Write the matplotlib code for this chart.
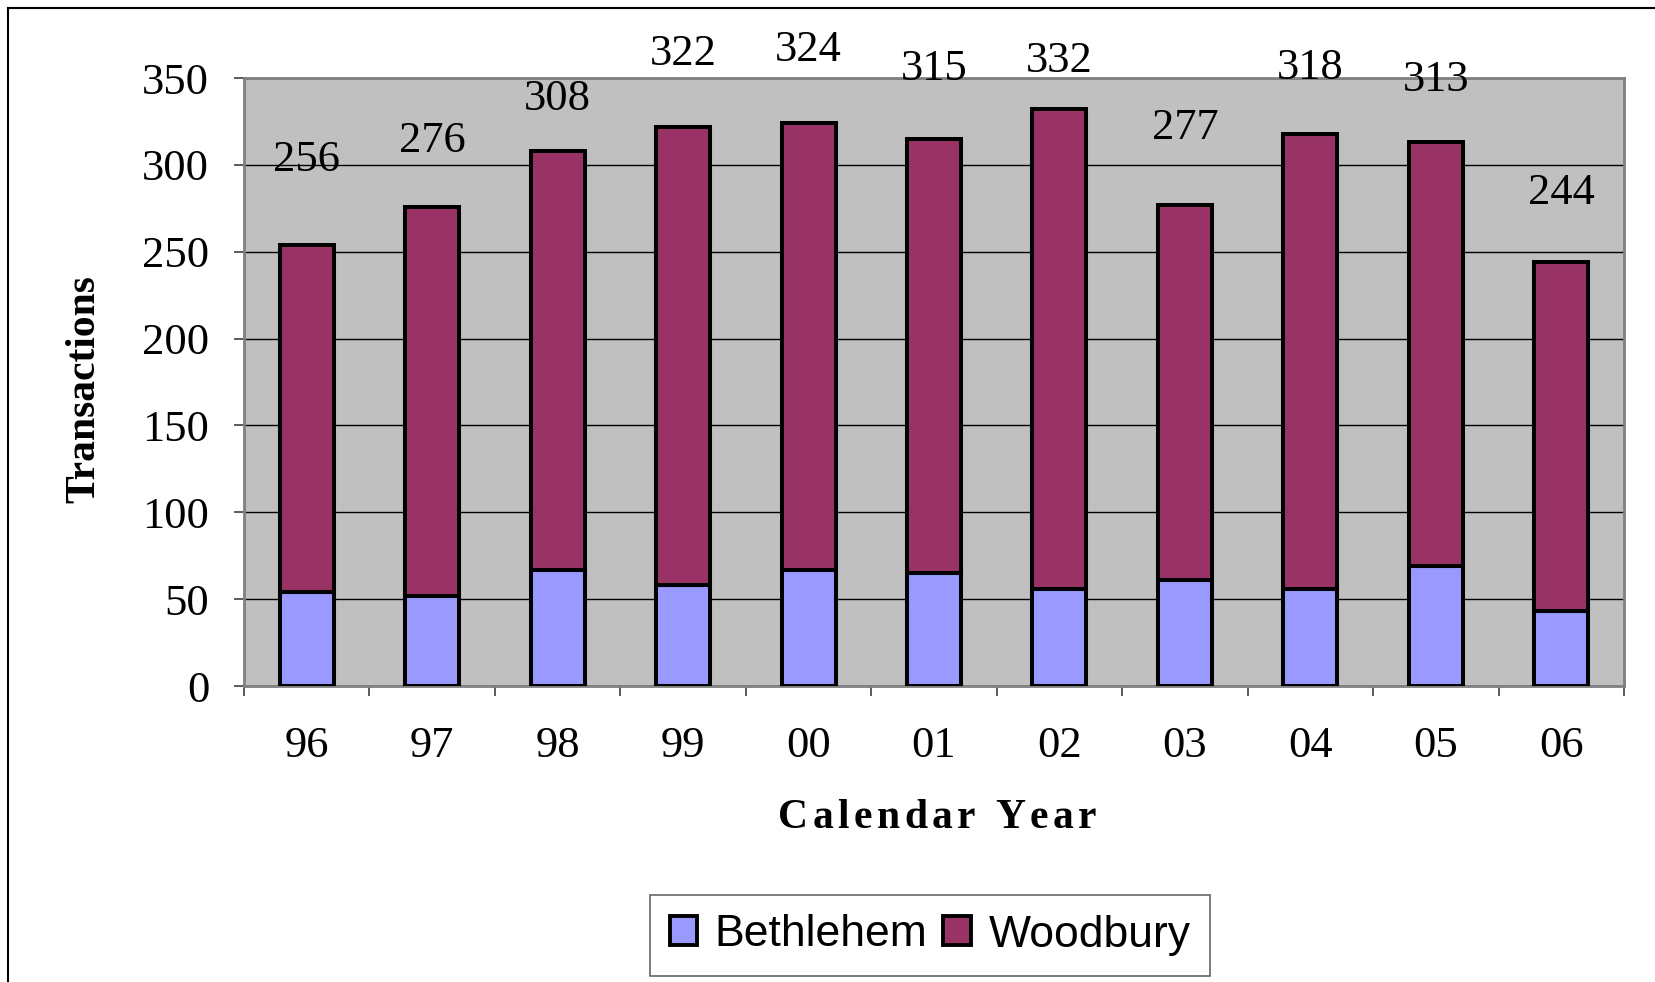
import matplotlib
matplotlib.use("Agg")
import matplotlib.pyplot as plt
import numpy as np
from matplotlib import font_manager
from matplotlib.ft2font import FT2Font
from matplotlib.patches import Patch
from matplotlib.lines import Line2D

# ---- data ----
years = ["96", "97", "98", "99", "00", "01", "02", "03", "04", "05", "06"]
bethlehem = [54, 52, 67, 58, 67, 65, 56, 61, 56, 69, 43]
woodbury = [200, 224, 241, 264, 257, 250, 276, 216, 262, 244, 201]
total_labels = ["256", "276", "308", "322", "324", "315", "332", "277", "318", "313", "244"]
# label centre heights (data units), as placed in the original
label_y = [303, 314, 338, 364, 366, 355, 360, 321, 356, 349, 284]
yticks = [0, 50, 100, 150, 200, 250, 300, 350]

W, H, DPI = 1656, 982, 100
fig = plt.figure(figsize=(W / DPI, H / DPI), dpi=DPI)
fig.patch.set_facecolor("white")

ax_l, ax_r, ax_t, ax_b = 244, 1624, 78, 686
ax = fig.add_axes([ax_l / W, 1 - ax_b / H, (ax_r - ax_l) / W, (ax_b - ax_t) / H])
ax.set_facecolor("#C0C0C0")

x = np.arange(len(years))
bw = 0.43
ax.bar(x, bethlehem, bw, color="#9999FF", edgecolor="black", linewidth=2.9, zorder=3, label="Bethlehem")
ax.bar(x, woodbury, bw, bottom=bethlehem, color="#993366", edgecolor="black", linewidth=2.9, zorder=3, label="Woodbury")

serif = "Liberation Serif"
for xi, lab, ly in zip(x, total_labels, label_y):
    ax.text(xi, ly, lab, ha="center", va="center", fontsize=32, family=serif, zorder=5, clip_on=False)

ax.set_xlim(-0.5, len(years) - 0.5)
ax.set_ylim(0, 350)
ax.set_yticks(yticks)
ax.set_yticklabels([str(v) for v in yticks], fontsize=32, family=serif)
ax.set_xticks(x)
ax.set_xticklabels(years, fontsize=32, family=serif)
ax.set_xticks(np.arange(-0.5, len(years)), minor=True)
ax.tick_params(axis="x", which="major", length=0, pad=29)
ax.tick_params(axis="x", which="minor", length=7, width=1.2, color="#404040", direction="out")
ax.tick_params(axis="y", which="major", length=7, width=1.2, color="#404040", direction="out", pad=18)

ax.yaxis.grid(True, color="black", linewidth=1.0, zorder=1)
ax.set_axisbelow(True)
for s in ax.spines.values():
    s.set_color("#808080")
    s.set_linewidth(2)

# y axis title
fig.text(84 / W, 1 - 389 / H, "Transactions", rotation=90, ha="center", va="center",
         fontsize=30, family=serif, fontweight="bold")

# letter-spaced x axis title
def spaced_text(s, cx_px, cy_px, size, spacing_px):
    fp = font_manager.FontProperties(family=serif, weight="bold")
    ft = FT2Font(font_manager.findfont(fp))
    ft.set_size(size, DPI)
    advs = []
    for c in s:
        g = ft.load_char(ord(c))
        advs.append(g.linearHoriAdvance / 65536)
    total = sum(advs) + spacing_px * (len(s) - 1)
    xpos = cx_px - total / 2
    for c, a in zip(s, advs):
        if c != " ":
            fig.text(xpos / W, 1 - cy_px / H, c, ha="left", va="center", fontsize=size,
                     family=serif, fontweight="bold")
        xpos += a + spacing_px

spaced_text("Calendar Year", 937, 818, 30, 4.5)

# legend
handles = [Patch(facecolor="#9999FF", edgecolor="black", linewidth=2.8),
           Patch(facecolor="#993366", edgecolor="black", linewidth=2.8)]
leg = fig.legend(handles, ["Bethlehem", "Woodbury"], loc="center",
                 bbox_to_anchor=(930 / W, 1 - 935 / H), ncol=2, frameon=True, fancybox=False,
                 prop={"family": "Liberation Sans", "size": 32},
                 handlelength=0.62, handleheight=0.62, handletextpad=0.4, columnspacing=0.35,
                 borderpad=0.45, borderaxespad=0)
leg.get_frame().set_edgecolor("#404040")
leg.get_frame().set_linewidth(1.2)

# outer frame (top and left edges visible)
fig.add_artist(Line2D([8 / W, 1.0], [1 - 8 / H, 1 - 8 / H], transform=fig.transFigure, color="black", lw=1.5))
fig.add_artist(Line2D([8 / W, 8 / W], [1 - 8 / H, 0.0], transform=fig.transFigure, color="black", lw=1.5))

fig.savefig("out.png", dpi=DPI)
